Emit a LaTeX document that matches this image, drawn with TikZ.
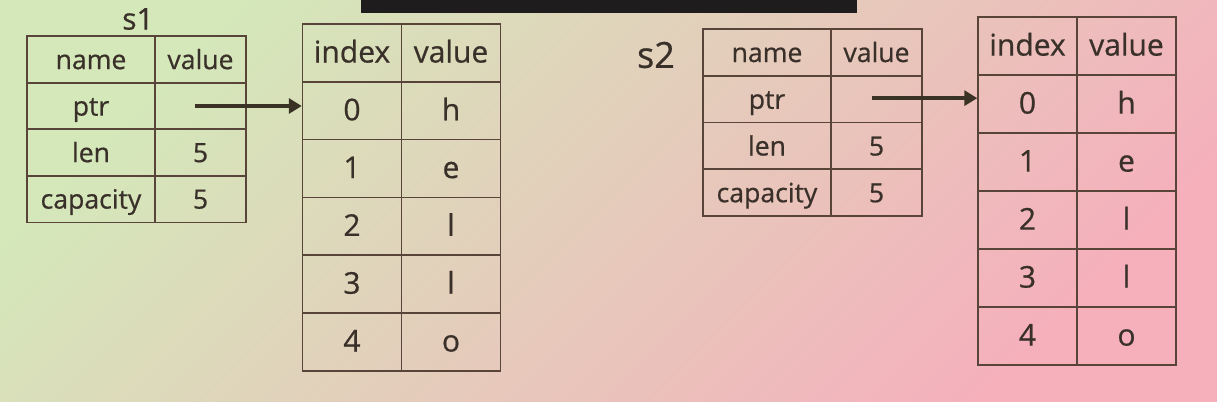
\documentclass[tikz,border=0pt]{standalone}
\usepackage{fontspec}
\setmainfont{Open Sans}[FakeBold=0.6]
\usetikzlibrary{positioning,shapes,arrows.meta}

\definecolor{bgleft}{RGB}{212,232,186}
\definecolor{bgmid}{RGB}{229,214,190}
\definecolor{bgright}{RGB}{245,176,188}
\definecolor{linecol}{RGB}{88,68,56}
\definecolor{textcol}{RGB}{58,48,42}
\definecolor{arrowcol}{RGB}{58,50,36}
\definecolor{barcol}{RGB}{30,28,28}

\begin{document}
\begin{tikzpicture}[x=0.5pt,y=-0.5pt,
  cell/.style={draw=linecol,line width=0.75pt,rectangle,inner sep=0pt,text=textcol,
    text height=0.96em,text depth=0em,font=\fontsize{13.3}{13.3}\selectfont},
  namecell/.style={cell,minimum width=64pt,minimum height=23.3pt},
  valcell/.style={cell,minimum width=45.5pt,minimum height=23.3pt},
  arrcell/.style={cell,minimum width=49.5pt,minimum height=29pt,font=\fontsize{15}{15}\selectfont},
  varlabel/.style={text=textcol,inner sep=0pt},
  ptrarrow/.style={draw=arrowcol,line width=1.8pt,-{Triangle[length=6.5pt,width=7.5pt]}}]

\shade[top color=bgleft,middle color=bgmid,bottom color=bgright,shading angle=45] (0,0) rectangle (1217,402);
\useasboundingbox (0,0) rectangle (1217,402);
\fill[barcol] (361,0) rectangle (857,13);

% s1 and its heap buffer
\node[varlabel,font=\fontsize{15}{15}\selectfont] (s1) at (138,19) {s1};
\foreach \r/\n/\v in {0/name/value,1/ptr/,2/len/5,3/capacity/5} {
    \node[namecell] (s1n\r) at (91,{59.5+46.5*\r}) {\n};
    \node[valcell] (s1v\r) at (200.5,{59.5+46.5*\r}) {\v};
}
\foreach \r/\k/\c in {0/index/value,1/0/h,2/1/e,3/2/l,4/3/l,5/4/o} {
    \node[arrcell] (a1k\r) at (352,{52.9+57.8*\r}) {\k};
    \node[arrcell] (a1c\r) at (451,{52.9+57.8*\r}) {\c};
}
\draw[ptrarrow] ([xshift=-3pt]s1v1.center) -- (s1v1.center -| a1k1.west);

% s2 and its heap buffer
\node[varlabel,font=\fontsize{18}{18}\selectfont] (s2) at (656,55) {s2};
\foreach \r/\n/\v in {0/name/value,1/ptr/,2/len/5,3/capacity/5} {
    \node[namecell] (s2n\r) at (767,{52.4+46.75*\r}) {\n};
    \node[valcell] (s2v\r) at (876.5,{52.4+46.75*\r}) {\v};
}
\foreach \r/\k/\c in {0/index/value,1/0/h,2/1/e,3/2/l,4/3/l,5/4/o} {
    \node[arrcell] (a2k\r) at (1027.5,{46+58*\r}) {\k};
    \node[arrcell] (a2c\r) at (1126.5,{46+58*\r}) {\c};
}
\draw[ptrarrow] ([xshift=-2.5pt,yshift=0.5pt]s2v1.center) -- ([yshift=0.5pt]s2v1.center -| a2k1.west);
\end{tikzpicture}
\end{document}
